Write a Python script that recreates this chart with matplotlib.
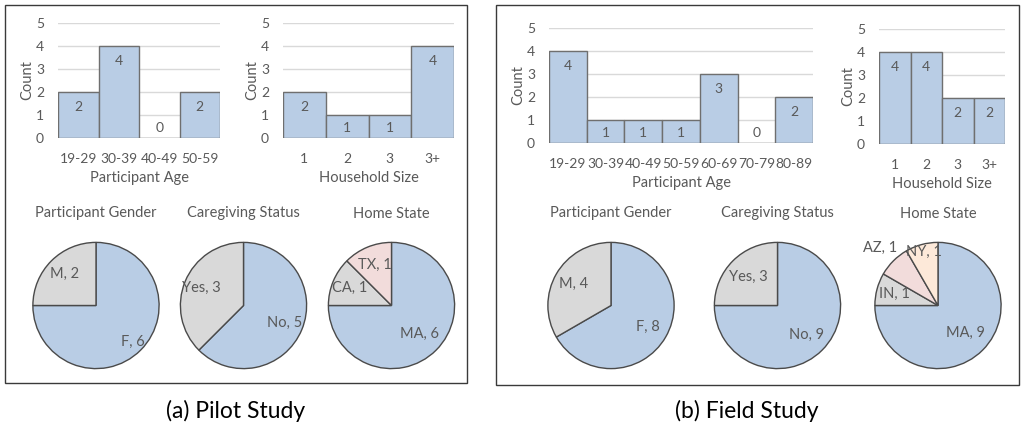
import numpy as np
import matplotlib.pyplot as plt
from matplotlib.patches import Rectangle

plt.rcParams['font.family'] = ['Lato', 'DejaVu Sans']

# pilot study
pilot_age_bins = ['19-29', '30-39', '40-49', '50-59']
pilot_age_counts = [2, 4, 0, 2]
pilot_house_bins = ['1', '2', '3', '3+']
pilot_house_counts = [2, 1, 1, 4]
pilot_gender = ['F', 'M']
pilot_gender_counts = [6, 2]
pilot_care = ['No', 'Yes']
pilot_care_counts = [5, 3]
pilot_state = ['MA', 'CA', 'TX']
pilot_state_counts = [6, 1, 1]

# field study
field_age_bins = ['19-29', '30-39', '40-49', '50-59', '60-69', '70-79', '80-89']
field_age_counts = [4, 1, 1, 1, 3, 0, 2]
field_house_bins = ['1', '2', '3', '3+']
field_house_counts = [4, 4, 2, 2]
field_gender = ['F', 'M']
field_gender_counts = [8, 4]
field_care = ['No', 'Yes']
field_care_counts = [9, 3]
field_state = ['MA', 'IN', 'AZ', 'NY']
field_state_counts = [9, 1, 1, 1]

BLUE = '#B9CDE5'
GREY = '#D9D9D9'
PINK = '#F2DCDB'
PEACH = '#FDE9D9'
TXT = '#595959'

W, H = 1025, 429
fig = plt.figure(figsize=(W / 100, H / 100), dpi=100)


def px_axes(x0, y0, x1, y1):
    return fig.add_axes([x0 / W, 1 - y1 / H, (x1 - x0) / W, (y1 - y0) / H])


def bar_chart(rect, bins, counts, xlabel):
    ax = px_axes(*rect)
    xs = range(len(bins))
    ax.bar(xs, counts, width=1.0, color=BLUE, edgecolor='#6F6F6F',
           linewidth=1.0, zorder=3)
    for x, c in zip(xs, counts):
        y = c - 0.65 if c >= 2 else 0.45
        ax.text(x, y, str(c), ha='center', va='center', fontsize=10,
                color=TXT, zorder=4)
    ax.set_xlim(-0.5, len(bins) - 0.5)
    ax.set_ylim(0, 5)
    ax.set_yticks(range(6))
    ax.set_xticks(list(xs))
    ax.set_xticklabels(bins)
    ax.grid(axis='y', color='#D9D9D9', linewidth=1.0, zorder=0)
    for s in ax.spines.values():
        s.set_visible(False)
    ax.tick_params(length=0, labelsize=10, colors=TXT, pad=10)
    ax.tick_params(axis='x', pad=11)
    ax.set_ylabel('Count', fontsize=10.5, color=TXT, labelpad=1)
    ax.set_xlabel(xlabel, fontsize=10.5, color=TXT, labelpad=4)
    return ax


def pie_chart(cx, cy, title, names, counts, colors, dists):
    r = 65
    ax = px_axes(cx - r, cy - r, cx + r, cy + r)
    wedges, _ = ax.pie(counts, colors=colors, startangle=90,
                       counterclock=False, radius=1,
                       wedgeprops=dict(edgecolor='#4A4A4A', linewidth=1.0))
    for w, n, c, d in zip(wedges, names, counts, dists):
        mid = np.deg2rad((w.theta1 + w.theta2) / 2)
        ax.text(d * np.cos(mid), d * np.sin(mid), f'{n}, {c}',
                ha='center', va='center', fontsize=10.5, color=TXT)
    ax.set_xlim(-1.03, 1.03)
    ax.set_ylim(-1.03, 1.03)
    ax.set_aspect('equal')
    fig.text(cx / W, 1 - (cy - 92) / H, title, ha='center', va='center',
             fontsize=10.5, color=TXT)


# panel frames
for x0, y0, x1, y1 in [(5, 5, 467, 383), (496, 5, 1019, 385)]:
    fig.patches.append(Rectangle((x0 / W, 1 - y1 / H), (x1 - x0) / W,
                                 (y1 - y0) / H, transform=fig.transFigure,
                                 fill=False, edgecolor='#3A3A3A',
                                 linewidth=1.0))

# (a) pilot
bar_chart((58, 23, 220, 138), pilot_age_bins, pilot_age_counts,
          'Participant Age')
bar_chart((283, 23, 454, 138), pilot_house_bins, pilot_house_counts,
          'Household Size')
pie_chart(96, 305.5, 'Participant Gender', pilot_gender,
          pilot_gender_counts, [BLUE, GREY], [0.82, 0.7])
pie_chart(243.5, 305.5, 'Caregiving Status', pilot_care,
          pilot_care_counts, [BLUE, GREY], [0.7, 0.72])
pie_chart(391.5, 305.5, 'Home State', pilot_state,
          pilot_state_counts, [BLUE, GREY, PINK], [0.63, 0.72, 0.69])

# (b) field
bar_chart((549, 28, 813, 143), field_age_bins, field_age_counts,
          'Participant Age')
bar_chart((879, 29, 1005, 144), field_house_bins, field_house_counts,
          'Household Size')
pie_chart(611, 305.5, 'Participant Gender', field_gender,
          field_gender_counts, [BLUE, GREY], [0.68, 0.68])
pie_chart(777.5, 305.5, 'Caregiving Status', field_care,
          field_care_counts, [BLUE, GREY], [0.66, 0.65])
pie_chart(938, 305.5, 'Home State', field_state,
          field_state_counts, [BLUE, GREY, PINK, PEACH],
          [0.61, 0.72, 1.3, 0.88])

fig.text(236 / W, 1 - 411 / H, '(a) Pilot Study', ha='center', va='center',
         fontsize=16.5, color='black')
fig.text(747 / W, 1 - 411 / H, '(b) Field Study', ha='center', va='center',
         fontsize=16.5, color='black')

fig.savefig('out.png', dpi=100)
